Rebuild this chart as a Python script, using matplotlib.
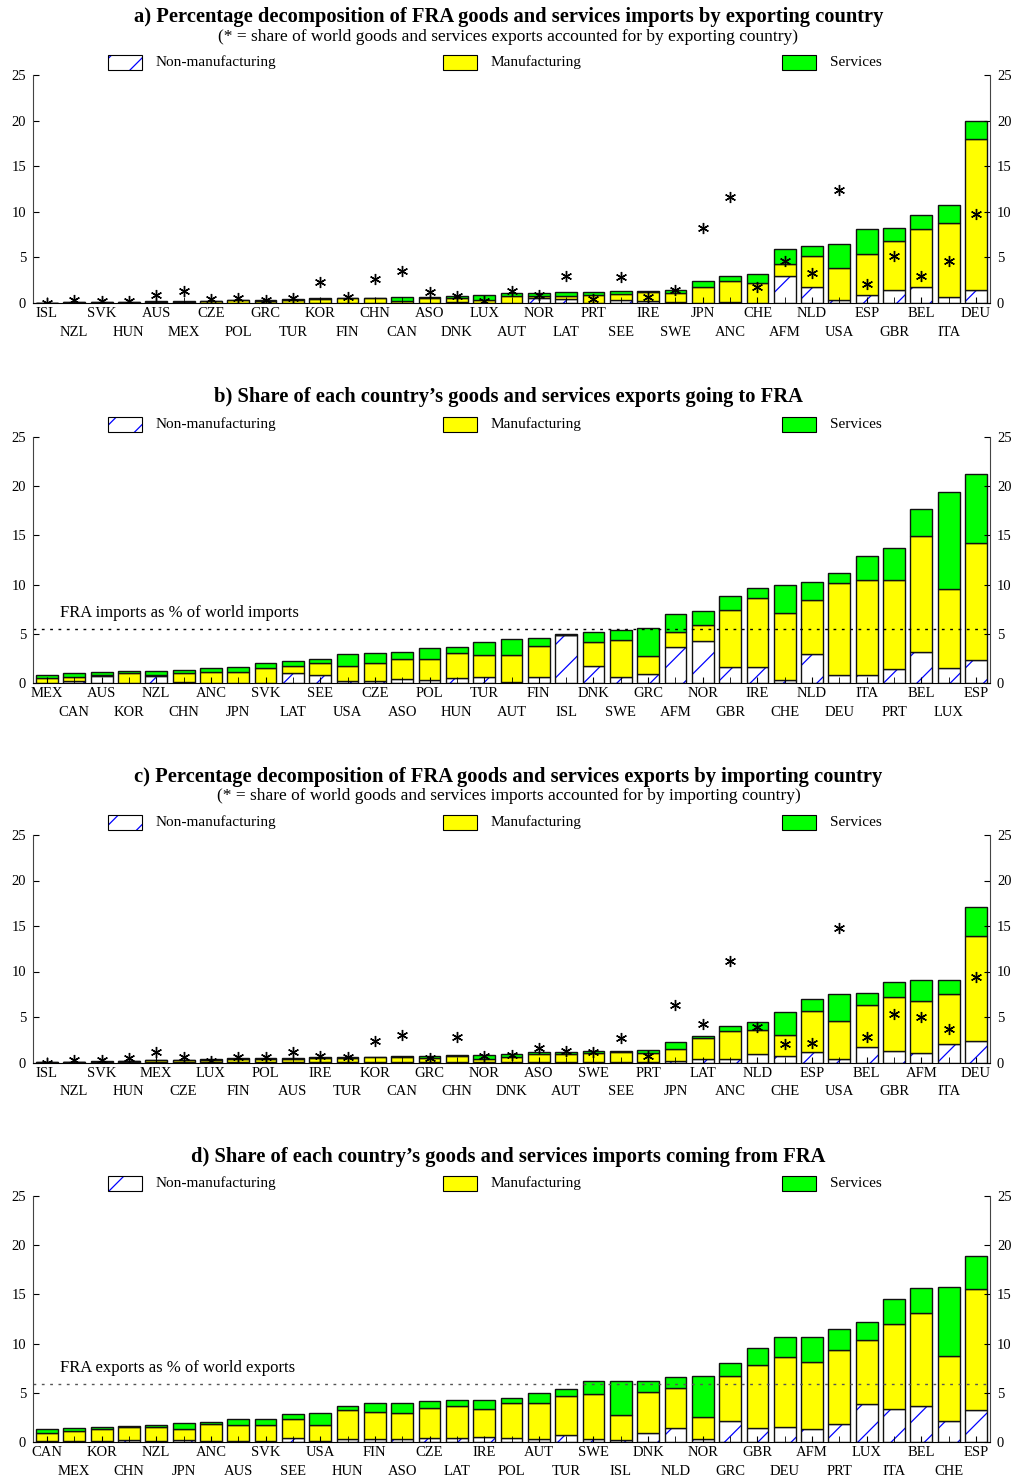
import numpy as np
import matplotlib
matplotlib.use('Agg')
import matplotlib.pyplot as plt
from matplotlib.patches import Rectangle

plt.rcParams['font.family'] = ['Liberation Serif', 'DejaVu Serif']
plt.rcParams['hatch.linewidth'] = 0.9

# ---- panel a: FRA imports by exporting country ----
a_countries = ['ISL', 'NZL', 'SVK', 'HUN', 'AUS', 'MEX', 'CZE', 'POL', 'GRC', 'TUR', 'KOR', 'FIN',
               'CHN', 'CAN', 'ASO', 'DNK', 'LUX', 'AUT', 'NOR', 'LAT', 'PRT', 'SEE', 'IRE', 'SWE',
               'JPN', 'ANC', 'CHE', 'AFM', 'NLD', 'USA', 'ESP', 'GBR', 'BEL', 'ITA', 'DEU']
a_nonman = [0.0, 0.01, 0.01, 0.01, 0.02, 0.02, 0.02, 0.02, 0.02, 0.02, 0.02, 0.03,
            0.0, 0.05, 0.05, 0.15, 0.05, 0.05, 0.5, 0.45, 0.05, 0.35, 0.2, 0.1,
            0.05, 0.1, 0.05, 3.0, 1.7, 0.35, 0.85, 1.4, 1.7, 0.65, 1.4]
a_man = [0.03, 0.05, 0.06, 0.1, 0.1, 0.1, 0.18, 0.27, 0.18, 0.3, 0.38, 0.5,
         0.5, 0.2, 0.45, 0.35, 0.3, 0.7, 0.3, 0.35, 0.85, 0.6, 1.0, 1.0,
         1.65, 2.3, 2.15, 1.3, 3.4, 3.45, 4.55, 5.4, 6.4, 8.1, 16.55]
a_serv = [0.02, 0.04, 0.03, 0.04, 0.08, 0.05, 0.05, 0.07, 0.15, 0.13, 0.1, 0.07,
          0.05, 0.4, 0.2, 0.3, 0.5, 0.3, 0.35, 0.4, 0.3, 0.35, 0.15, 0.35,
          0.75, 0.6, 1.0, 1.6, 1.2, 2.7, 2.7, 1.4, 1.5, 2.05, 2.05]
a_world = [0.0, 0.35, 0.25, 0.25, 0.9, 1.35, 0.45, 0.6, 0.35, 0.55, 2.3, 0.7,
           2.6, 3.5, 1.25, 0.8, 0.2, 1.35, 0.85, 3.0, 0.4, 2.85, 0.7, 1.45,
           8.2, 11.6, 1.7, 4.6, 3.3, 12.4, 2.1, 5.1, 3.0, 4.6, 9.75]

# ---- panel b: share of each country's exports going to FRA ----
b_countries = ['MEX', 'CAN', 'AUS', 'KOR', 'NZL', 'CHN', 'ANC', 'JPN', 'SVK', 'LAT', 'SEE', 'USA',
               'CZE', 'ASO', 'POL', 'HUN', 'TUR', 'AUT', 'FIN', 'ISL', 'DNK', 'SWE', 'GRC', 'AFM',
               'NOR', 'GBR', 'IRE', 'CHE', 'NLD', 'DEU', 'ITA', 'PRT', 'BEL', 'LUX', 'ESP']
b_nonman = [0.05, 0.25, 0.72, 0.02, 0.75, 0.1, 0.05, 0.05, 0.05, 1.0, 0.85, 0.17,
            0.2, 0.4, 0.34, 0.54, 0.6, 0.1, 0.64, 4.85, 1.72, 0.64, 0.95, 3.65,
            4.29, 1.59, 1.66, 0.34, 2.94, 0.78, 0.84, 1.42, 3.14, 1.49, 2.33]
b_man = [0.45, 0.35, 0.05, 1.0, 0.05, 0.9, 1.1, 1.1, 1.47, 0.7, 1.15, 1.52,
         1.8, 2.03, 2.09, 2.5, 2.24, 2.7, 3.11, 0.05, 2.44, 3.75, 1.82, 1.52,
         1.62, 5.81, 6.99, 6.82, 5.51, 9.39, 9.6, 9.08, 11.76, 8.07, 11.86]
b_serv = [0.28, 0.4, 0.35, 0.16, 0.38, 0.3, 0.33, 0.47, 0.5, 0.53, 0.47, 1.21,
          1.0, 0.67, 1.17, 0.66, 1.31, 1.66, 0.81, 0.1, 1.04, 0.95, 2.8, 1.86,
          1.42, 1.45, 1.01, 2.81, 1.85, 1.05, 2.43, 3.25, 2.74, 9.8, 7.06]
b_ref = 5.47

# ---- panel c: FRA exports by importing country ----
c_countries = ['ISL', 'NZL', 'SVK', 'HUN', 'MEX', 'CZE', 'LUX', 'FIN', 'POL', 'AUS', 'IRE', 'TUR',
               'KOR', 'CAN', 'GRC', 'CHN', 'NOR', 'DNK', 'ASO', 'AUT', 'SWE', 'SEE', 'PRT', 'JPN',
               'LAT', 'ANC', 'NLD', 'CHE', 'ESP', 'USA', 'BEL', 'GBR', 'AFM', 'ITA', 'DEU']
c_nonman = [0.0, 0.01, 0.01, 0.02, 0.02, 0.02, 0.02, 0.03, 0.03, 0.03, 0.03, 0.03,
            0.03, 0.03, 0.03, 0.02, 0.05, 0.05, 0.03, 0.03, 0.05, 0.05, 0.05, 0.18,
            0.33, 0.33, 0.92, 0.7, 1.1, 0.33, 1.72, 1.25, 0.99, 2.01, 2.38]
c_man = [0.02, 0.04, 0.08, 0.13, 0.2, 0.23, 0.25, 0.34, 0.37, 0.3, 0.42, 0.5,
         0.52, 0.52, 0.5, 0.68, 0.3, 0.6, 0.9, 0.9, 1.0, 1.05, 1.0, 1.29,
         2.31, 3.15, 2.63, 2.27, 4.61, 4.21, 4.65, 6.0, 5.82, 5.57, 11.5]
c_serv = [0.01, 0.01, 0.02, 0.05, 0.08, 0.05, 0.13, 0.08, 0.07, 0.17, 0.1, 0.07,
          0.1, 0.15, 0.19, 0.1, 0.48, 0.25, 0.17, 0.2, 0.25, 0.2, 0.3, 0.83,
          0.29, 0.52, 0.85, 2.53, 1.25, 3.04, 1.25, 1.65, 2.31, 1.54, 3.22]
c_world = [0.0, 0.3, 0.25, 0.45, 1.2, 0.6, 0.2, 0.65, 0.6, 1.2, 0.72, 0.65,
           2.35, 3.0, 0.5, 2.75, 0.72, 0.83, 1.6, 1.3, 1.2, 2.65, 0.7, 6.37,
           4.18, 11.1, 3.85, 2.0, 2.16, 14.8, 2.82, 5.38, 4.98, 3.66, 9.41]

# ---- panel d: share of each country's imports coming from FRA ----
d_countries = ['CAN', 'MEX', 'KOR', 'CHN', 'NZL', 'JPN', 'ANC', 'AUS', 'SVK', 'SEE', 'USA', 'HUN',
               'FIN', 'ASO', 'CZE', 'LAT', 'IRE', 'POL', 'AUT', 'TUR', 'SWE', 'ISL', 'DNK', 'NLD',
               'NOR', 'GRC', 'GBR', 'DEU', 'AFM', 'PRT', 'LUX', 'ITA', 'BEL', 'CHE', 'ESP']
d_nonman = [0.1, 0.07, 0.07, 0.17, 0.07, 0.17, 0.07, 0.07, 0.07, 0.38, 0.07, 0.27,
            0.27, 0.27, 0.38, 0.44, 0.48, 0.41, 0.27, 0.68, 0.27, 0.24, 0.89, 1.43,
            0.3, 2.13, 1.42, 1.49, 1.29, 1.83, 3.82, 3.32, 3.65, 2.13, 3.25]
d_man = [0.86, 1.09, 1.23, 1.33, 1.5, 1.16, 1.74, 1.67, 1.7, 1.91, 1.67, 2.96,
         2.77, 2.67, 3.1, 3.25, 2.86, 3.55, 3.72, 4.0, 4.58, 2.46, 4.16, 4.06,
         2.24, 4.57, 6.39, 7.14, 6.8, 7.54, 6.53, 8.72, 9.44, 6.56, 12.31]
d_serv = [0.37, 0.31, 0.27, 0.1, 0.17, 0.65, 0.27, 0.55, 0.52, 0.51, 1.16, 0.46,
          0.88, 0.98, 0.68, 0.54, 0.89, 0.48, 1.03, 0.71, 1.36, 3.51, 1.16, 1.13,
          4.19, 1.32, 1.76, 2.03, 2.6, 2.1, 1.83, 2.51, 2.61, 7.04, 3.38]
d_ref = 5.87

W, H = 1017, 1479
fig = plt.figure(figsize=(W / 100, H / 100), dpi=100)


def legend_row(top_px):
    # legend boxes sit just above the axes top
    y0 = 1 - (top_px - 5) / H
    h = 15 / H
    items = [(108, 'Non-manufacturing'), (443, 'Manufacturing'), (782, 'Services')]
    for k, (x_px, label) in enumerate(items):
        x0 = x_px / W
        w = 34 / W
        if k == 0:
            fig.add_artist(Rectangle((x0, y0), w, h, transform=fig.transFigure,
                                     facecolor='white', edgecolor='blue', hatch='/', lw=0))
            fig.add_artist(Rectangle((x0, y0), w, h, transform=fig.transFigure,
                                     fill=False, edgecolor='black', lw=0.8))
        else:
            fig.add_artist(Rectangle((x0, y0), w, h, transform=fig.transFigure,
                                     facecolor='yellow' if k == 1 else '#00ff00',
                                     edgecolor='black', lw=0.8))
        fig.text((x_px + 48) / W, y0 + h / 2, label, fontsize=11, va='center', ha='left')


def panel(top_px, bottom_px, countries, nonman, man, serv, world=None,
          ref=None, ref_text=None, ref_color='black'):
    ax = fig.add_axes([33 / W, 1 - bottom_px / H, (990 - 33) / W, (bottom_px - top_px) / H])
    x = np.arange(len(countries))
    nm = np.array(nonman)
    mf = np.array(man)
    sv = np.array(serv)
    ax.bar(x, nm, 0.8, color='white', edgecolor='blue', hatch='/', linewidth=0)
    ax.bar(x, nm, 0.8, fill=False, edgecolor='#111111', linewidth=1.0)
    ax.bar(x, mf, 0.8, bottom=nm, color='yellow', edgecolor='#111111', linewidth=1.0)
    ax.bar(x, sv, 0.8, bottom=nm + mf, color='#00ff00', edgecolor='#111111', linewidth=1.0)
    if world is not None:
        ax.plot(x, world, linestyle='none', marker=(6, 2, 0), markersize=8,
                markeredgewidth=1.0, color='black', zorder=5)
    if ref is not None:
        ax.axhline(ref, color=ref_color, linestyle=(0, (2, 4)), linewidth=1)
        ax.text(0.48, ref + 1.6, ref_text, fontsize=12, va='center', ha='left')
    ax.set_xlim(-0.51, len(countries) - 0.49)
    ax.set_ylim(0, 25)
    ax.set_yticks([0, 5, 10, 15, 20, 25])
    # staggered country labels: even positions on first row, odd on second
    ax.set_xticks(x[::2])
    ax.set_xticklabels(countries[::2], fontsize=10.5)
    ax.set_xticks(x[1::2], minor=True)
    ax.set_xticklabels(countries[1::2], minor=True, fontsize=10.5)
    ax.tick_params(axis='x', which='major', direction='in', length=4, pad=3)
    ax.tick_params(axis='x', which='minor', direction='in', length=4, pad=16.5)
    ax.tick_params(axis='y', direction='in', length=4, labelsize=10.5, right=True,
                   labelright=True, pad=5)
    ax.spines['top'].set_visible(False)
    for side in ['left', 'right']:
        ax.spines[side].set_color('#444444')
    ax.set_facecolor('none')
    legend_row(top_px)
    return ax


panel(75, 303, a_countries, a_nonman, a_man, a_serv, world=a_world)
panel(437, 683, b_countries, b_nonman, b_man, b_serv, ref=b_ref,
      ref_text='FRA imports as % of world imports')
panel(835, 1062.5, c_countries, c_nonman, c_man, c_serv, world=c_world)
panel(1196, 1442, d_countries, d_nonman, d_man, d_serv, ref=d_ref,
      ref_text='FRA exports as % of world exports', ref_color='#555555')

fig.text(0.5, 1 - 17 / H,
         'a) Percentage decomposition of FRA goods and services imports by exporting country',
         fontsize=14.8, fontweight='bold', ha='center', va='center')
fig.text(0.5, 1 - 37 / H,
         '(* = share of world goods and services exports accounted for by exporting country)',
         fontsize=12.5, ha='center', va='center')
fig.text(0.5, 1 - 397 / H,
         'b) Share of each country\u2019s goods and services exports going to FRA',
         fontsize=14.8, fontweight='bold', ha='center', va='center')
fig.text(0.5, 1 - 777 / H,
         'c) Percentage decomposition of FRA goods and services exports by importing country',
         fontsize=14.8, fontweight='bold', ha='center', va='center')
fig.text(0.5, 1 - 796 / H,
         '(* = share of world goods and services imports accounted for by importing country)',
         fontsize=12.5, ha='center', va='center')
fig.text(0.5, 1 - 1157 / H,
         'd) Share of each country\u2019s goods and services imports coming from FRA',
         fontsize=14.8, fontweight='bold', ha='center', va='center')

fig.savefig('out.png', dpi=100)
